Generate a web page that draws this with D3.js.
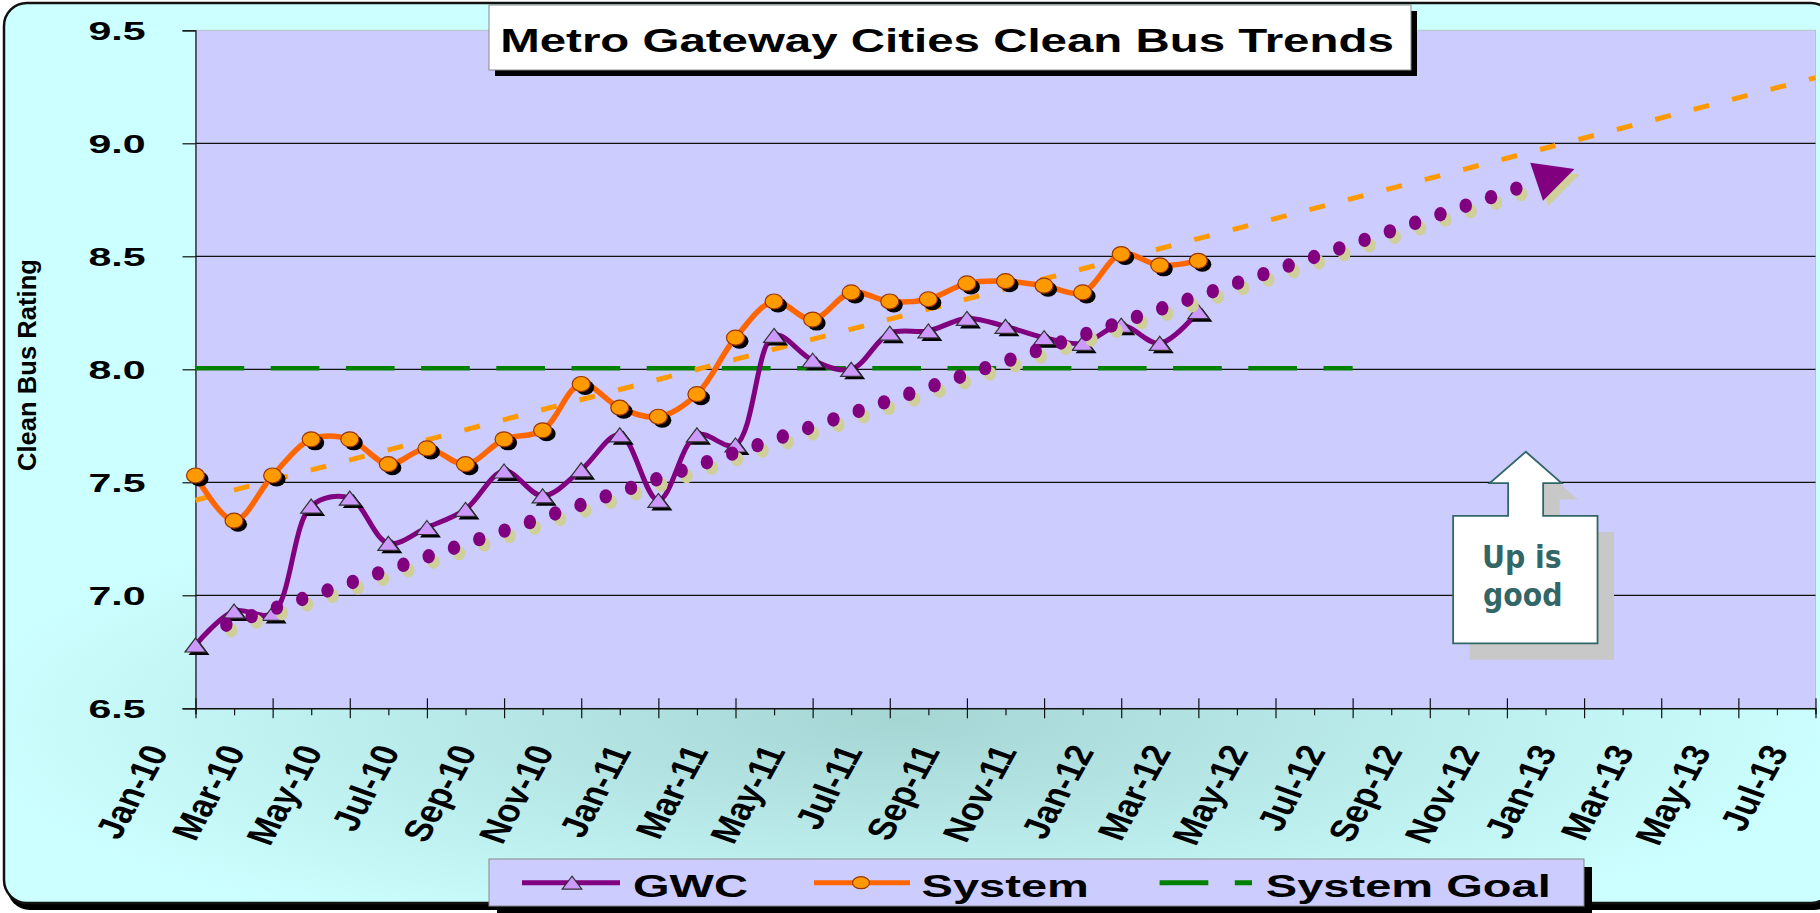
<!DOCTYPE html>
<html>
<head>
<meta charset="utf-8">
<script src="https://cdn.jsdelivr.net/npm/d3@7"></script>
<style>
  body { margin: 0; background: #fff; }
  svg { display: block; }
  text { font-family: "Liberation Sans", Arial, sans-serif; font-weight: bold; }
</style>
</head>
<body>
<svg width="1820" height="913"></svg>
<script>
// month categories (index = months since Jan-10)
var months = ["Jan-10","Feb-10","Mar-10","Apr-10","May-10","Jun-10","Jul-10","Aug-10","Sep-10","Oct-10","Nov-10","Dec-10",
              "Jan-11","Feb-11","Mar-11","Apr-11","May-11","Jun-11","Jul-11","Aug-11","Sep-11","Oct-11","Nov-11","Dec-11",
              "Jan-12","Feb-12","Mar-12","Apr-12","May-12","Jun-12","Jul-12"];

var tickLabels = ["Jan-10","Mar-10","May-10","Jul-10","Sep-10","Nov-10","Jan-11","Mar-11","May-11","Jul-11","Sep-11",
                  "Nov-11","Jan-12","Mar-12","May-12","Jul-12","Sep-12","Nov-12","Jan-13","Mar-13","May-13","Jul-13"];

var gwc = [6.78, 6.93, 6.92, 7.395, 7.43, 7.23, 7.30, 7.38, 7.55, 7.44, 7.555, 7.71,
           7.42, 7.71, 7.665, 8.15, 8.04, 8.00, 8.16, 8.17, 8.225, 8.19, 8.14, 8.115,
           8.195, 8.115, 8.255];

var system = [7.53, 7.33, 7.53, 7.69, 7.69, 7.58, 7.65, 7.58, 7.69, 7.73, 7.935, 7.83,
              7.79, 7.89, 8.14, 8.30, 8.22, 8.34, 8.30, 8.31, 8.38, 8.39, 8.37, 8.34,
              8.51, 8.46, 8.48];

var goal = [8.0, 8.0, 8.0, 8.0, 8.0, 8.0, 8.0, 8.0, 8.0, 8.0, 8.0, 8.0,
            8.0, 8.0, 8.0, 8.0, 8.0, 8.0, 8.0, 8.0, 8.0, 8.0, 8.0, 8.0,
            8.0, 8.0, 8.0, 8.0, 8.0, 8.0, 8.0];

var yTicks = [6.5, 7.0, 7.5, 8.0, 8.5, 9.0, 9.5];

// hand drawn dotted arrow (month, rating) and "Up is good" callout tip
var arrowPts = [[0.8, 6.87], [34.77, 8.83]];
var calloutTip = [34.49, 7.635];

var svg = d3.select("svg");
var pLeft = 195.5, pRight = 1815.5, pTop = 30.3, pBottom = 708.3;

var x = d3.scaleLinear().domain([0, 42]).range([pLeft, pRight]);
var y = d3.scaleLinear().domain([6.5, 9.5]).range([pBottom, pTop]);

var defs = svg.append("defs");
var grad = defs.append("radialGradient").attr("id", "bg")
    .attr("gradientUnits", "userSpaceOnUse")
    .attr("cx", 900).attr("cy", 720).attr("r", 950)
    .attr("gradientTransform", "translate(900,720) scale(1,0.26) translate(-900,-720)");
grad.append("stop").attr("offset", 0).attr("stop-color", "#a6d6d4");
grad.append("stop").attr("offset", 1).attr("stop-color", "#ccffff");

// chart area frame
svg.append("rect").attr("x", 7).attr("y", 10).attr("width", 1830).attr("height", 900)
    .attr("rx", 23).attr("fill", "#000");
svg.append("rect").attr("x", 4).attr("y", 3).attr("width", 1830).attr("height", 900)
    .attr("rx", 23).attr("fill", "url(#bg)").attr("stroke", "#111").attr("stroke-width", 2.5);

// plot area
svg.append("rect").attr("x", pLeft).attr("y", pTop).attr("width", pRight - pLeft).attr("height", pBottom - pTop)
    .attr("fill", "#ccccff").attr("stroke", "#b4c4c4").attr("stroke-width", 1);

svg.append("g").selectAll("line")
    .data([7.0, 7.5, 8.0, 8.5, 9.0])
    .enter().append("line")
      .attr("x1", pLeft).attr("x2", pRight)
      .attr("y1", function(d) { return y(d); })
      .attr("y2", function(d) { return y(d); })
      .attr("stroke", "#111").attr("stroke-width", 1.2);

// y axis
var yAxis = svg.append("g").attr("transform", "translate(" + pLeft + ",0)")
    .call(d3.axisLeft(y).tickValues(yTicks).tickSize(13).tickFormat(d3.format(".1f")));
yAxis.select(".domain").attr("stroke", "#111").attr("stroke-width", 1.2);
yAxis.selectAll(".tick line").attr("stroke", "#111").attr("stroke-width", 1.2);
yAxis.selectAll(".tick text")
    .attr("x", -50 / 1.55).attr("dy", null).attr("y", 9.5)
    .attr("transform", "scale(1.55,1)")
    .attr("font-size", 26.5).attr("fill", "#000")
    .attr("font-family", "Liberation Sans, Arial, sans-serif").attr("font-weight", "bold");

// x axis, minor ticks every month, major every two months
var xMinor = svg.append("g").attr("transform", "translate(0," + pBottom + ")")
    .call(d3.axisBottom(x).tickValues(d3.range(1, 42, 2)).tickSize(7).tickFormat(""));
xMinor.select(".domain").remove();
xMinor.selectAll(".tick line").attr("stroke", "#111").attr("stroke-width", 1.2);

var xAxis = svg.append("g").attr("transform", "translate(0," + pBottom + ")")
    .call(d3.axisBottom(x).tickValues(d3.range(0, 43, 2))
      .tickFormat(function(d) { return tickLabels[d / 2]; }));
xAxis.select(".domain").attr("stroke", "#111").attr("stroke-width", 1.5);
xAxis.selectAll(".tick line").attr("y1", -10).attr("y2", 10).attr("stroke", "#111").attr("stroke-width", 1.2);
xAxis.selectAll(".tick text")
    .attr("x", 0).attr("y", 0).attr("dy", null)
    .attr("text-anchor", "end")
    .attr("transform", "translate(-27,43) scale(1.25,1) rotate(-66)")
    .attr("font-size", 31).attr("fill", "#000")
    .attr("font-family", "Liberation Sans, Arial, sans-serif").attr("font-weight", "bold");

// System Goal
svg.append("path")
    .datum(goal)
    .attr("fill", "none").attr("stroke", "#008000").attr("stroke-width", 4.5)
    .attr("stroke-dasharray", "48.7,26.5")
    .attr("d", d3.line().x(function(d, i) { return x(i); }).y(function(d) { return y(d) - 1; }));

// System linear trendline, forecast to end of axis
var mx = d3.mean(system, function(d, i) { return i; }), my = d3.mean(system);
var sxy = d3.sum(system, function(d, i) { return (i - mx) * (d - my); });
var sxx = d3.sum(system, function(d, i) { return (i - mx) * (i - mx); });
var slope = sxy / sxx, icpt = my - slope * mx;
svg.append("line")
    .attr("x1", x(0)).attr("y1", y(icpt))
    .attr("x2", x(42)).attr("y2", y(icpt + slope * 42))
    .attr("stroke", "#ff9900").attr("stroke-width", 5)
    .attr("stroke-dasharray", "16,23.7");

var smooth = d3.line()
    .x(function(d, i) { return x(i); })
    .y(function(d) { return y(d); })
    .curve(d3.curveCatmullRom.alpha(0.5));

svg.append("path").datum(gwc)
    .attr("fill", "none").attr("stroke", "#800080").attr("stroke-width", 5)
    .attr("d", smooth);
svg.append("path").datum(system)
    .attr("fill", "none").attr("stroke", "#ff6600").attr("stroke-width", 5.5)
    .attr("d", smooth);

var triPath = "M0,-7L10.5,7L-10.5,7Z";

var gMark = svg.append("g");
gMark.selectAll(".triShadow").data(gwc).enter().append("path")
    .attr("d", triPath).attr("fill", "#000")
    .attr("transform", function(d, i) { return "translate(" + (x(i) + 3.5) + "," + (y(d) + 3) + ")"; });
gMark.selectAll(".tri").data(gwc).enter().append("path")
    .attr("d", triPath).attr("fill", "#cc99ff").attr("stroke", "#333").attr("stroke-width", 1.2)
    .attr("transform", function(d, i) { return "translate(" + x(i) + "," + y(d) + ")"; });

gMark.selectAll(".dotShadow").data(system).enter().append("ellipse")
    .attr("cx", function(d, i) { return x(i) + 4; })
    .attr("cy", function(d) { return y(d) + 3.5; })
    .attr("rx", 9).attr("ry", 7.5).attr("fill", "#000");
gMark.selectAll(".dot").data(system).enter().append("ellipse")
    .attr("cx", function(d, i) { return x(i); })
    .attr("cy", function(d) { return y(d); })
    .attr("rx", 9).attr("ry", 7.5)
    .attr("fill", "#ff9900").attr("stroke", "#993300").attr("stroke-width", 1.2);

// dotted arrow with khaki shadow
function drawArrow(g, dx, dy, col) {
  var p0 = [x(arrowPts[0][0]) + dx, y(arrowPts[0][1]) + dy];
  var p1 = [x(arrowPts[1][0]) + dx, y(arrowPts[1][1]) + dy];
  var len = Math.hypot(p1[0] - p0[0], p1[1] - p0[1]);
  var ux = (p1[0] - p0[0]) / len, uy = (p1[1] - p0[1]) / len;
  g.append("g").selectAll("ellipse")
      .data(d3.range(0, len - 8, 26.7))
      .enter().append("ellipse")
        .attr("cx", function(s) { return p0[0] + s * ux; })
        .attr("cy", function(s) { return p0[1] + s * uy; })
        .attr("rx", 6.2).attr("ry", 7.2).attr("fill", col);
  var head = [[p1[0] + 40 * ux, p1[1] + 40 * uy],
              [p1[0] - 20 * uy, p1[1] + 20 * ux],
              [p1[0] + 20 * uy, p1[1] - 20 * ux]];
  g.append("path").attr("d", "M" + head.join("L") + "Z").attr("fill", col);
}
var gArrow = svg.append("g");
drawArrow(gArrow, 5, 5.5, "#cfcf9a");
drawArrow(gArrow, 0, 0, "#800080");

// "Up is good" callout
var cx = x(calloutTip[0]), cy = y(calloutTip[1]);
var callout = [[-72.7, 64], [-17.7, 64], [-17.7, 31.3], [-36, 31.3], [0, 0], [35.7, 31.3], [17.3, 31.3],
               [17.3, 64], [71.7, 64], [71.7, 191.6], [-72.7, 191.6]];
function calloutPath(ox, oy) {
  return "M" + callout.map(function(p) { return [cx + p[0] + ox, cy + p[1] + oy]; }).join("L") + "Z";
}
svg.append("path").attr("d", calloutPath(16.5, 16.3)).attr("fill", "#c8c8c8");
svg.append("path").attr("d", calloutPath(0, 0)).attr("fill", "#fff")
    .attr("stroke", "#336666").attr("stroke-width", 1.8);
svg.append("text").attr("transform", "translate(" + (cx - 4) + "," + (cy + 116.6) + ") scale(0.9,1)")
    .attr("text-anchor", "middle").attr("font-size", 31.5).attr("fill", "#336666")
    .style("font-family", "DejaVu Sans, Verdana, sans-serif").text("Up is");
svg.append("text").attr("transform", "translate(" + (cx - 3) + "," + (cy + 154) + ") scale(0.9,1)")
    .attr("text-anchor", "middle").attr("font-size", 31.5).attr("fill", "#336666")
    .style("font-family", "DejaVu Sans, Verdana, sans-serif").text("good");

// title
svg.append("rect").attr("x", 495).attr("y", 11).attr("width", 922).attr("height", 65).attr("fill", "#000");
svg.append("rect").attr("x", 489).attr("y", 5).attr("width", 922).attr("height", 65)
    .attr("fill", "#fff").attr("stroke", "#888").attr("stroke-width", 1);
svg.append("text").attr("transform", "translate(947,51.5) scale(1.46,1)")
    .attr("text-anchor", "middle").attr("font-size", 32.5).attr("fill", "#000")
    .text("Metro Gateway Cities Clean Bus Trends");

// y axis title
svg.append("text").attr("transform", "translate(36,365) rotate(-90)")
    .attr("text-anchor", "middle").attr("font-size", 25).attr("fill", "#000")
    .attr("textLength", 212).attr("lengthAdjust", "spacingAndGlyphs")
    .text("Clean Bus Rating");

// legend
svg.append("rect").attr("x", 497).attr("y", 867).attr("width", 1095).attr("height", 47).attr("fill", "#000");
svg.append("rect").attr("x", 489).attr("y", 859).attr("width", 1095).attr("height", 47)
    .attr("fill", "#ccccff").attr("stroke", "#888").attr("stroke-width", 1);
var ly = 882.7;
svg.append("line").attr("x1", 522).attr("x2", 620).attr("y1", ly).attr("y2", ly)
    .attr("stroke", "#800080").attr("stroke-width", 5);
svg.append("path").attr("d", "M0,-6.5L9.8,6.5L-9.8,6.5Z").attr("transform", "translate(572," + ly + ")")
    .attr("fill", "#cc99ff").attr("stroke", "#333").attr("stroke-width", 1.2);
svg.append("line").attr("x1", 814).attr("x2", 910).attr("y1", ly).attr("y2", ly)
    .attr("stroke", "#ff6600").attr("stroke-width", 5);
svg.append("ellipse").attr("cx", 861).attr("cy", ly).attr("rx", 8.5).attr("ry", 6)
    .attr("fill", "#ff9900").attr("stroke", "#993300").attr("stroke-width", 1.2);
svg.append("line").attr("x1", 1159.6).attr("x2", 1252).attr("y1", ly).attr("y2", ly)
    .attr("stroke", "#008000").attr("stroke-width", 5).attr("stroke-dasharray", "48.7,26.5");
[["GWC", 633], ["System", 921.6], ["System Goal", 1265.8]].forEach(function(l) {
  svg.append("text").attr("transform", "translate(" + l[1] + ",896.7) scale(1.47,1)")
      .attr("font-size", 32).attr("fill", "#000").text(l[0]);
});
</script>
</body>
</html>
